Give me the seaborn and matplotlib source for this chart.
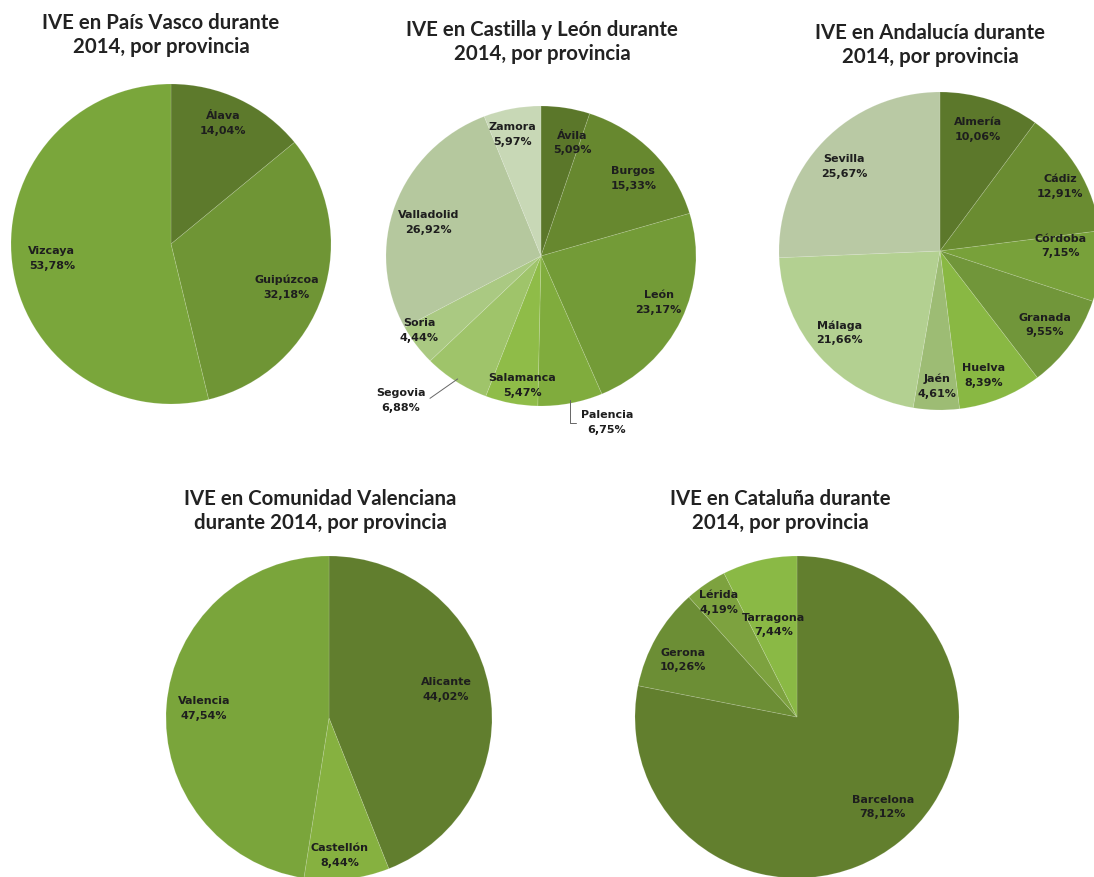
import numpy as np
import matplotlib
matplotlib.use("Agg")
import matplotlib.pyplot as plt
import seaborn as sns

sns.set_theme(style="white")
plt.rcParams['font.family'] = ['DejaVu Sans']

# ---------------- data ----------------
pv_prov = ['Álava', 'Guipúzcoa', 'Vizcaya']
pv_vals = [14.04, 32.18, 53.78]

cl_prov = ['Ávila', 'Burgos', 'León', 'Palencia', 'Salamanca', 'Segovia',
           'Soria', 'Valladolid', 'Zamora']
cl_vals = [5.09, 15.33, 23.17, 6.75, 5.47, 6.88, 4.44, 26.92, 5.97]

an_prov = ['Almería', 'Cádiz', 'Córdoba', 'Granada', 'Huelva', 'Jaén',
           'Málaga', 'Sevilla']
an_vals = [10.06, 12.91, 7.15, 9.55, 8.39, 4.61, 21.66, 25.67]

cv_prov = ['Alicante', 'Castellón', 'Valencia']
cv_vals = [44.02, 8.44, 47.54]

ca_prov = ['Barcelona', 'Gerona', 'Lérida', 'Tarragona']
ca_vals = [78.12, 10.26, 4.19, 7.44]

titles = ['IVE en País Vasco durante\n2014, por provincia',
          'IVE en Castilla y León durante\n2014, por provincia',
          'IVE en Andalucía durante\n2014, por provincia',
          'IVE en Comunidad Valenciana\ndurante 2014, por provincia',
          'IVE en Cataluña durante\n2014, por provincia']

# ---------------- style ----------------
pv_colors = ['#5d7a2c', '#6f9535', '#7aa63b']
cl_colors = ['#5b772a', '#67882f', '#739b37', '#80ac3d', '#8fbc48',
             '#9fc46a', '#aac982', '#b5c89e', '#c8d8b6']
an_colors = ['#5c782b', '#6a8c31', '#78a13a', '#71963a', '#89b843',
             '#9dbc74', '#b3d091', '#b9c9a4']
cv_colors = ['#617e2e', '#86b140', '#7aa53b']
ca_colors = ['#627f2e', '#6c8e35', '#7da23f', '#8ab945']

W, H = 1094, 877
fig = plt.figure(figsize=(W / 100, H / 100), dpi=100)
fig.patch.set_facecolor('white')


def fmt(name, v):
    return f"{name}\n{v:.2f}%".replace('.', ',')


def draw(cx, cy, rx, ry, names, vals, colors, title, tx, ty, lab):
    ax = fig.add_axes([(cx - rx) / W, (H - (cy + ry)) / H, 2 * rx / W, 2 * ry / H])
    wedges, _ = ax.pie(vals, colors=colors, startangle=90, counterclock=False,
                       radius=1,
                       wedgeprops=dict(linewidth=0.6, edgecolor=(1, 1, 1, 0.15)))
    ax.set_aspect('auto')
    ax.set_xlim(-1, 1)
    ax.set_ylim(-1, 1)
    ax.axis('off')
    for w, name, v in zip(wedges, names, vals):
        mid = (w.theta1 + w.theta2) / 2.0
        d, off, leader = lab.get(name, (0.8, 0, None))
        ang = np.deg2rad(mid - off)
        x, y = d * np.cos(ang), d * np.sin(ang)
        kw = dict(fontsize=8.0, fontweight='bold', color='#1e1e1e',
                  ha='center', va='center', linespacing=1.6, clip_on=False)
        if leader:
            m = np.deg2rad(mid)
            ax.annotate(fmt(name, v), xy=(0.98 * np.cos(m), 0.98 * np.sin(m)),
                        xytext=(x, y), textcoords='data',
                        arrowprops=dict(arrowstyle='-', color='#666666', lw=0.7,
                                        shrinkA=1, shrinkB=0,
                                        connectionstyle=leader),
                        annotation_clip=False, **kw)
        else:
            ax.text(x, y, fmt(name, v), **kw)
    fig.text(tx / W, 1 - ty / H, title, ha='center', va='center',
             fontsize=14.7, fontweight='bold', color='#222222',
             family=['Lato', 'DejaVu Sans'], linespacing=1.25)
    return ax


pv_lab = {'Álava': (0.82, -2, None), 'Guipúzcoa': (0.77, 2, None),
          'Vizcaya': (0.75, 0, None)}
cl_lab = {'Ávila': (0.78, 6, None), 'Burgos': (0.79, 3, None),
          'León': (0.82, -3, None),
          'Palencia': (1.19, -10, 'angle,angleA=0,angleB=90,rad=0'),
          'Salamanca': (0.87, -3, None),
          'Segovia': (1.32, 10, 'angle,angleA=0,angleB=35,rad=0'),
          'Soria': (0.93, 4, None), 'Valladolid': (0.76, -3, None),
          'Zamora': (0.83, -2, None)}
an_lab = {'Almería': (0.80, -1, None), 'Cádiz': (0.85, 2, None),
          'Córdoba': (0.75, -8, None), 'Granada': (0.80, 0, None),
          'Huelva': (0.83, 3, None), 'Jaén': (0.85, 0, None),
          'Málaga': (0.81, 2, None), 'Sevilla': (0.80, -2, None)}
cv_lab = {'Alicante': (0.74, -3, None), 'Castellón': (0.85, 2, None),
          'Valencia': (0.77, 0, None)}
ca_lab = {'Barcelona': (0.77, -4, None), 'Gerona': (0.79, -3, None),
          'Lérida': (0.86, 0, None), 'Tarragona': (0.59, -1, None)}

draw(171, 244, 160, 160, pv_prov, pv_vals, pv_colors, titles[0], 161, 35, pv_lab)
draw(541, 256, 155, 150, cl_prov, cl_vals, cl_colors, titles[1], 542, 42, cl_lab)
draw(940, 251, 161, 159, an_prov, an_vals, an_colors, titles[2], 930, 45, an_lab)
draw(329, 718, 163, 162, cv_prov, cv_vals, cv_colors, titles[3], 320, 511, cv_lab)
draw(797, 717, 162, 161, ca_prov, ca_vals, ca_colors, titles[4], 780, 511, ca_lab)

fig.savefig('out.png', dpi=100, facecolor='white')
